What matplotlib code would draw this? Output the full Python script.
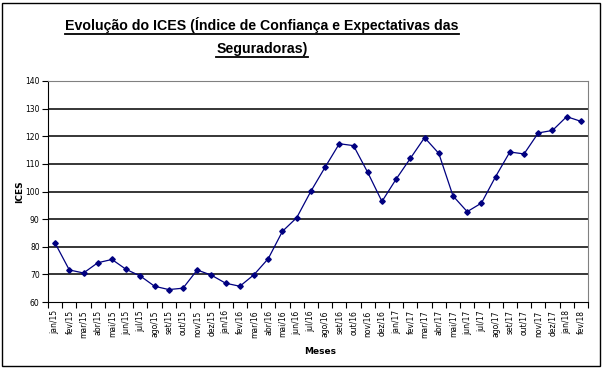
import matplotlib.pyplot as plt
from matplotlib.lines import Line2D
from matplotlib.patches import Rectangle

# Monthly ICES values, jan/15 .. fev/18
meses = ['jan/15', 'fev/15', 'mar/15', 'abr/15', 'mai/15', 'jun/15', 'jul/15', 'ago/15',
         'set/15', 'out/15', 'nov/15', 'dez/15', 'jan/16', 'fev/16', 'mar/16', 'abr/16',
         'mai/16', 'jun/16', 'jul/16', 'ago/16', 'set/16', 'out/16', 'nov/16', 'dez/16',
         'jan/17', 'fev/17', 'mar/17', 'abr/17', 'mai/17', 'jun/17', 'jul/17', 'ago/17',
         'set/17', 'out/17', 'nov/17', 'dez/17', 'jan/18', 'fev/18']
ices = [81.3, 71.6, 70.5, 74.2, 75.4, 71.8, 69.4, 65.7, 64.5, 65.0, 71.6, 69.7,
        66.8, 65.7, 69.9, 75.7, 85.6, 90.5, 100.1, 108.8, 117.3, 116.6, 106.9, 96.4,
        104.5, 112.0, 119.5, 113.8, 98.4, 92.7, 95.8, 105.4, 114.3, 113.6, 121.2, 122.1,
        127.1, 125.4]
y_ticks = [60, 70, 80, 90, 100, 110, 120, 130, 140]

W, H = 605, 369
fig = plt.figure(figsize=(W / 100, H / 100), dpi=100)
fig.patches.append(Rectangle((2 / W, 3 / H), 598 / W, 363 / H, transform=fig.transFigure,
                             fill=False, edgecolor='black', linewidth=1.0))

ax = fig.add_axes([48 / W, (H - 302) / H, 540 / W, 221 / H])
x = list(range(len(meses)))
ax.plot(x, ices, color='#000080', linewidth=0.9, marker='D', markersize=2.8,
        markerfacecolor='#000080', markeredgecolor='#000080')

ax.set_xlim(-0.5, len(meses) - 0.5)
ax.set_ylim(60, 140)
ax.set_yticks(y_ticks)
ax.set_yticklabels([str(v) for v in y_ticks], fontsize=5.5, family='DejaVu Sans')
for v in y_ticks[1:-1]:
    ax.axhline(v, color='black', linewidth=1.1, zorder=0)

ax.set_xticks(x)
ax.set_xticklabels(meses, rotation=90, fontsize=5.5, family='DejaVu Sans')
ax.set_xticks([i - 0.5 for i in range(len(meses) + 1)], minor=True)
ax.tick_params(axis='x', which='major', length=0, pad=6)
ax.tick_params(axis='x', which='minor', length=4, width=0.8, direction='out')
ax.tick_params(axis='y', length=4, width=0.8, direction='out', pad=2)

for s in ['top', 'right']:
    ax.spines[s].set_color('#808080')
for s in ['left', 'bottom']:
    ax.spines[s].set_color('black')

fig.text(20 / W, 1 - 192 / H, 'ICES', rotation=90, ha='center', va='center',
         fontsize=6.5, fontweight='bold', family='DejaVu Sans')
fig.text(320 / W, 1 - 351 / H, 'Meses', ha='center', va='center',
         fontsize=6.5, fontweight='bold', family='DejaVu Sans')

t1 = fig.text(262 / W, 1 - 25 / H, 'Evolução do ICES (Índice de Confiança e Expectativas das',
              ha='center', va='center', fontsize=10.2, fontweight='bold', family='Liberation Sans')
t2 = fig.text(262 / W, 1 - 49 / H, 'Seguradoras)', ha='center', va='center',
              fontsize=10.2, fontweight='bold', family='Liberation Sans')

# underline the title
fig.canvas.draw()
r = fig.canvas.get_renderer()
for t in (t1, t2):
    bb = t.get_window_extent(r)
    yy = bb.y0 - 0.5
    fig.add_artist(Line2D([bb.x0 / W, bb.x1 / W], [yy / H, yy / H],
                          transform=fig.transFigure, color='black', linewidth=1.3))

fig.savefig('out.png', dpi=100)
